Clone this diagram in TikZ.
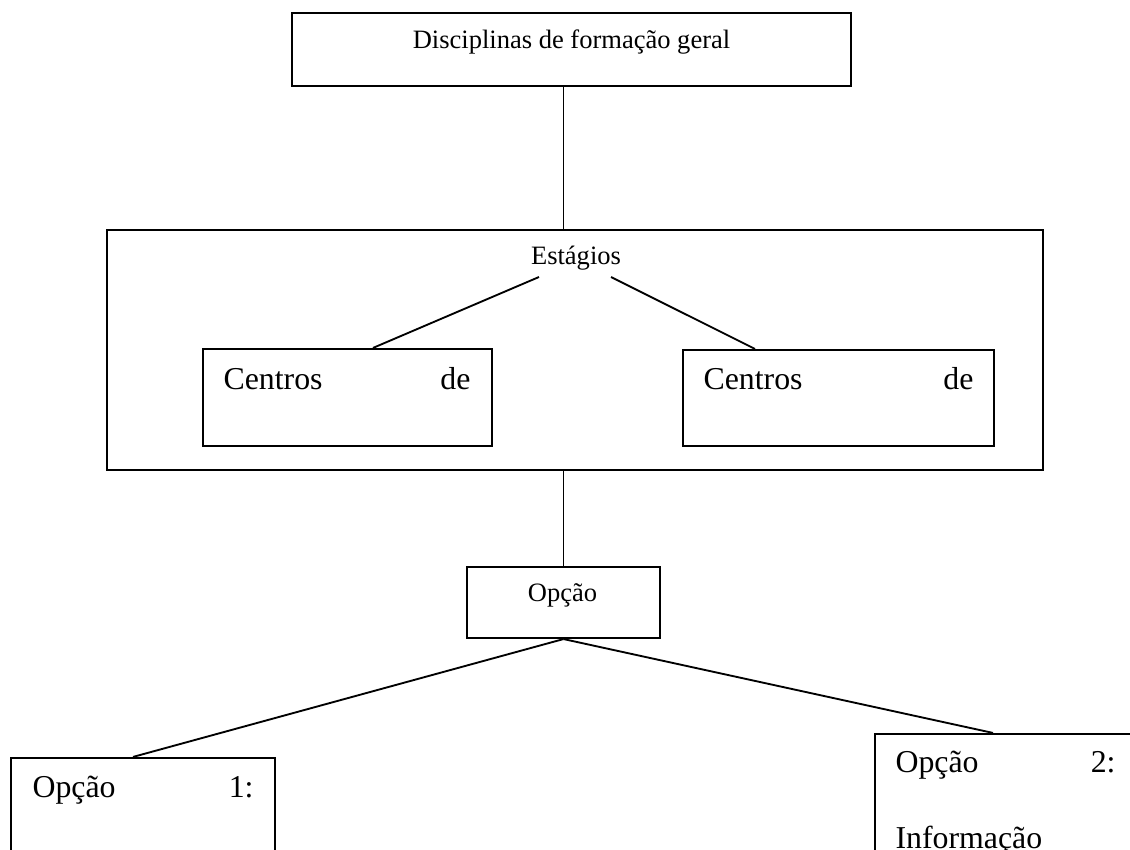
\documentclass[tikz,border=0pt]{standalone}
\usepackage{fontspec}
\setmainfont{Liberation Serif}
\usetikzlibrary{calc}

\newcommand{\px}{0.377pt}

\begin{document}
\begin{tikzpicture}[
  x=\px, y=-\px,
  box/.style={draw, line width=0.8pt, inner sep=0pt},
  txt/.style={inner sep=0pt, anchor=base, font=\fontsize{10}{12}\selectfont},
  bigtxt/.style={inner sep=0pt, anchor=base west, align=left, font=\fontsize{12}{14.4}\selectfont},
  ln/.style={line width=0.7pt}
]
\useasboundingbox (0,0) rectangle (1130,850);
\clip (0,0) rectangle (1130,850);

\node[box, minimum width=559*\px, minimum height=73*\px] (geral) at (571.5,49.5) {};
\node[txt] (geralt) at (571.5,49) {Disciplinas de formação geral};

\node[box, minimum width=936*\px, minimum height=240*\px] (estag) at (575,350) {};
\node[txt] (estagt) at (576,265) {Estágios};
\coordinate (el) at (539,277);
\coordinate (er) at (611,277);

\node[box, minimum width=289*\px, minimum height=97*\px] (cen1) at (347.5,397.5) {};
\node[bigtxt, text width=247*\px] (cen1t) at (223,390) {Centros\hfill de};
\node[box, minimum width=311*\px, minimum height=96*\px] (cen2) at (838.5,398) {};
\node[bigtxt, text width=270*\px] (cen2t) at (703,390) {Centros\hfill de};

\node[box, minimum width=193*\px, minimum height=71*\px] (opc) at (563.5,602.5) {};
\node[txt] (opct) at (562.5,602) {Opção};

\node[box, minimum width=264*\px, minimum height=200*\px] (opc1) at (143,858) {};
\node[bigtxt, text width=221*\px] (opc1t) at (32,798) {Opção\hfill 1:};
\node[box, minimum width=261*\px, minimum height=200*\px] (opc2) at (1005.5,834) {};
\node[bigtxt, text width=220*\px] (opc2t) at (895,773) {Opção\hfill 2:\\[14pt]Informação};

% ligacoes
\draw[ln] (geral.south -| opc) -- (estag.north -| opc);
\draw[ln] (el) -- ($(cen1.north)+(25.5,0)$);
\draw[ln] (er) -- ($(cen2.north)+(-83.5,0)$);
\draw[ln] (estag.south -| opc) -- (opc.north);
\draw[ln] (opc.south) -- ($(opc1.north)+(-10,0)$);
\draw[ln] (opc.south) -- ($(opc2.north)+(-12.5,0)$);
\end{tikzpicture}
\end{document}
